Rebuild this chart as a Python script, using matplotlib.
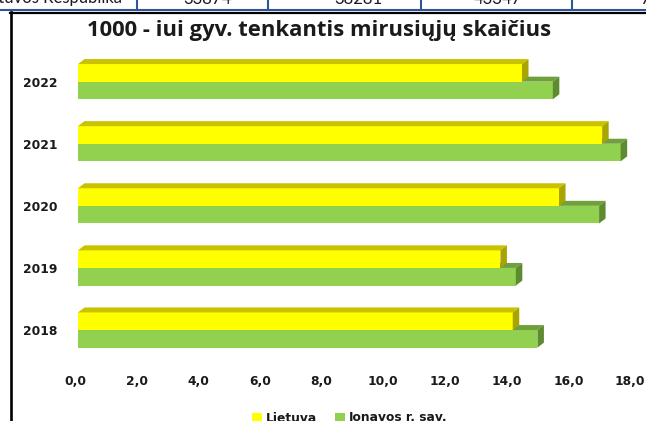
import matplotlib
matplotlib.use("Agg")
import matplotlib.pyplot as plt
from matplotlib.patches import Polygon, Patch, Rectangle
from matplotlib.lines import Line2D
import matplotlib.transforms as mtransforms

# ---- data -------------------------------------------------------------
years = ["2018", "2019", "2020", "2021", "2022"]
lietuva = [14.1, 13.7, 15.6, 17.0, 14.4]
jonava = [14.9, 14.2, 16.9, 17.6, 15.4]
series_names = ["Lietuva", "Jonavos r. sav."]
x_ticks = [0, 2, 4, 6, 8, 10, 12, 14, 16, 18]
x_ticklabels = ["0,0", "2,0", "4,0", "6,0", "8,0", "10,0", "12,0", "14,0", "16,0", "18,0"]
title = "1000 - iui gyv. tenkantis mirusiųjų skaičius"

# table row above the chart (only its lower edge is visible)
table_cells = ["Lietuvos Respublika", "33874", "38281", "43347", "7"]

# ---- style ------------------------------------------------------------
W, H, DPI = 646, 421, 100
YEL_FRONT, YEL_TOP, YEL_SIDE = "#FFFF00", "#C9C200", "#A8A500"
GRN_FRONT, GRN_TOP, GRN_SIDE = "#92D050", "#6FA03C", "#5E8B30"
TXT = "#1A1A1A"
DEPTH_X_PX, DEPTH_Y_PX = 6.5, 5.0

fig = plt.figure(figsize=(W / DPI, H / DPI), dpi=DPI)
fig.patch.set_facecolor("white")


def fx(px):
    return px / W


def fy(py):
    return 1 - py / H


ax_left, ax_right, ax_top, ax_bottom = 78, 633, 44.4, 367.3
ax = fig.add_axes([fx(ax_left), fy(ax_bottom), fx(ax_right - ax_left), (ax_bottom - ax_top) / H])
ax.set_xlim(0, 18)
ax.set_ylim(-0.6, len(years) - 0.4)
for s in ax.spines.values():
    s.set_visible(False)
ax.set_facecolor("none")

# pixel depth of the 3-D faces converted into data units
ux = (18 - 0) / (ax_right - ax_left)
uy = (len(years) - 0.4 + 0.6) / (ax_bottom - ax_top)
ddx, ddy = DEPTH_X_PX * ux, DEPTH_Y_PX * uy

bar_h = 17.6 * uy


def bar3d(v, y0, y1, front, top, side):
    ax.add_patch(Rectangle((0, y0), v, y1 - y0, facecolor=front, edgecolor="none", zorder=3))
    ax.add_patch(Polygon([(0, y1), (v, y1), (v + ddx, y1 + ddy), (ddx, y1 + ddy)],
                         closed=True, facecolor=top, edgecolor="none", zorder=3))
    ax.add_patch(Polygon([(v, y0), (v, y1), (v + ddx, y1 + ddy), (v + ddx, y0 + ddy)],
                         closed=True, facecolor=side, edgecolor="none", zorder=3))


for i, (lv, jv) in enumerate(zip(lietuva, jonava)):
    bar3d(jv, i - bar_h, i, GRN_FRONT, GRN_TOP, GRN_SIDE)
    bar3d(lv, i, i + bar_h, YEL_FRONT, YEL_TOP, YEL_SIDE)

ax.set_yticks(range(len(years)))
ax.set_yticklabels(years)
ax.set_xticks(x_ticks)
ax.set_xticklabels(x_ticklabels)
ax.tick_params(axis="both", length=0, colors=TXT, labelsize=8.8)
ax.tick_params(axis="x", pad=5.8)
ax.tick_params(axis="y", pad=15)
shift = mtransforms.ScaledTranslation(-3 / 72 * 0.72, 0, fig.dpi_scale_trans)
for lab in ax.get_xticklabels():
    lab.set_fontweight("bold")
    lab.set_family("DejaVu Sans")
    lab.set_transform(lab.get_transform() + shift)
for lab in ax.get_yticklabels():
    lab.set_fontweight("bold")
    lab.set_family("DejaVu Sans")

# title, sized to span the chart's heading width
title_txt = fig.text(fx(319), fy(35.7), title, ha="center", va="baseline",
                     fontsize=13.5, fontweight="bold", family="Open Sans", color=TXT)
renderer = fig.canvas.get_renderer()
tw = title_txt.get_window_extent(renderer).width
title_txt.set_fontsize(13.5 * 462 / tw)

# legend
handles = [Patch(facecolor=YEL_FRONT, edgecolor="none"), Patch(facecolor=GRN_FRONT, edgecolor="none")]
leg = fig.legend(handles, series_names, loc="center", bbox_to_anchor=(fx(350), fy(418)),
                 ncol=2, frameon=False, handlelength=0.8, handleheight=0.8,
                 handletextpad=0.3, columnspacing=1.5,
                 prop={"family": "DejaVu Sans", "weight": "bold", "size": 8.8})
for t in leg.get_texts():
    t.set_color(TXT)

# chart frame (left and top border)
fig.add_artist(Line2D([fx(11), fx(11)], [fy(12), fy(H + 2)], color="black", lw=1.9))
fig.add_artist(Line2D([fx(10), fx(W)], [fy(13), fy(13)], color="black", lw=1.6))

# table row above the chart
BLUE = "#2E5597"
fig.add_artist(Line2D([0, 1], [fy(10), fy(10)], color=BLUE, lw=1.5))
for xb in [137, 268, 421, 572]:
    fig.add_artist(Line2D([fx(xb), fx(xb)], [fy(-2), fy(10)], color=BLUE, lw=1.5))
cell_pos = [(122, "right"), (207, "center"), (358, "center"), (498, "center"), (640, "left")]
for txt, (xp, ha) in zip(table_cells, cell_pos):
    fig.text(fx(xp), fy(3.5), txt, ha=ha, va="baseline", fontsize=12, family="Lato", color=TXT)

fig.savefig("out.png", dpi=DPI, facecolor="white")
